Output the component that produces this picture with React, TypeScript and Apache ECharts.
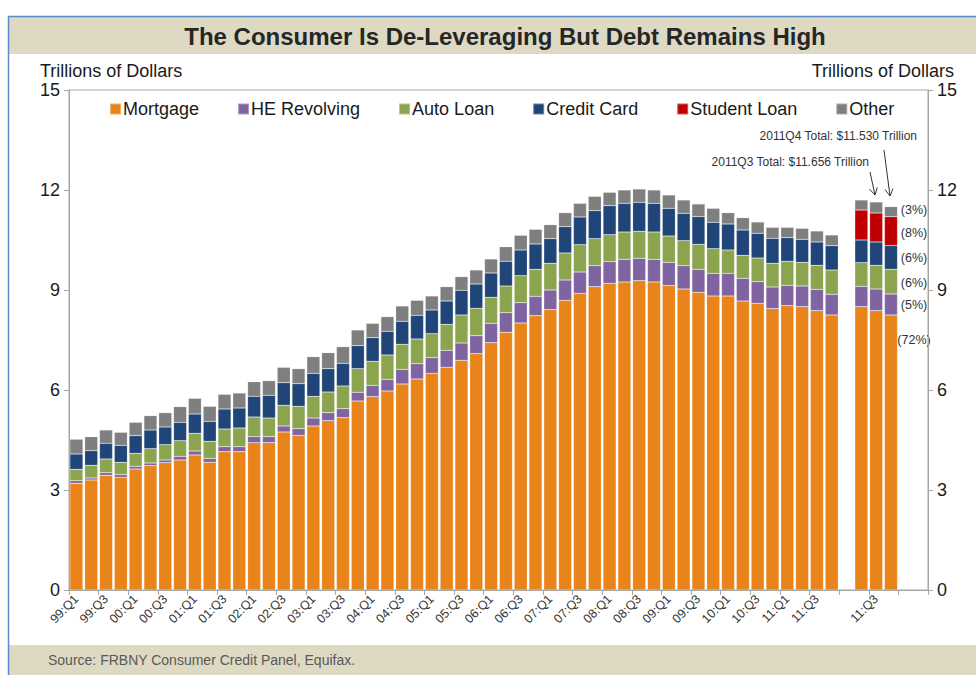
import React, { useEffect, useRef } from "react";
import * as echarts from "echarts";

// ---- Category labels (quarters) ----
const mainCategories = [
  "99:Q1","99:Q2","99:Q3","99:Q4","00:Q1","00:Q2","00:Q3","00:Q4",
  "01:Q1","01:Q2","01:Q3","01:Q4","02:Q1","02:Q2","02:Q3","02:Q4",
  "03:Q1","03:Q2","03:Q3","03:Q4","04:Q1","04:Q2","04:Q3","04:Q4",
  "05:Q1","05:Q2","05:Q3","05:Q4","06:Q1","06:Q2","06:Q3","06:Q4",
  "07:Q1","07:Q2","07:Q3","07:Q4","08:Q1","08:Q2","08:Q3","08:Q4",
  "09:Q1","09:Q2","09:Q3","09:Q4","10:Q1","10:Q2","10:Q3","10:Q4",
  "11:Q1","11:Q2","11:Q3","11:Q4",
];
const rightCategories = ["11:Q2", "11:Q3", "11:Q4"];

// ---- Series values, trillions of dollars (main group: 99Q1..11Q4) ----
const mortgageMain = [
  3.20,3.30,3.44,3.38,3.63,3.73,3.82,3.90,4.05,3.83,4.15,4.15,4.42,4.42,4.74,4.64,
  4.92,5.08,5.17,5.67,5.80,5.97,6.18,6.33,6.50,6.68,6.89,7.09,7.42,7.73,8.01,8.23,
  8.41,8.69,8.90,9.10,9.20,9.24,9.28,9.24,9.13,9.03,8.93,8.82,8.82,8.67,8.60,8.44,
  8.53,8.50,8.38,8.25,
];
const heRevolvingMain = [
  0.08,0.06,0.08,0.08,0.08,0.08,0.08,0.11,0.12,0.12,0.15,0.15,0.18,0.18,0.18,0.20,
  0.24,0.24,0.27,0.26,0.34,0.35,0.44,0.46,0.47,0.51,0.52,0.54,0.58,0.59,0.61,0.58,
  0.59,0.61,0.64,0.63,0.65,0.68,0.67,0.68,0.70,0.70,0.69,0.68,0.68,0.68,0.65,0.65,
  0.61,0.62,0.64,0.62,
];
const autoLoanMain = [
  0.34,0.38,0.41,0.37,0.39,0.43,0.46,0.47,0.53,0.51,0.53,0.56,0.59,0.56,0.62,0.67,
  0.65,0.62,0.68,0.71,0.72,0.73,0.75,0.74,0.72,0.78,0.84,0.82,0.78,0.80,0.81,0.81,
  0.80,0.81,0.82,0.81,0.81,0.82,0.81,0.82,0.79,0.75,0.75,0.74,0.70,0.69,0.71,0.71,
  0.72,0.71,0.72,0.73,
];
const creditCardMain = [
  0.46,0.44,0.47,0.51,0.53,0.56,0.53,0.55,0.58,0.60,0.60,0.60,0.62,0.68,0.68,0.68,
  0.69,0.70,0.68,0.69,0.71,0.71,0.69,0.71,0.71,0.70,0.74,0.73,0.73,0.74,0.77,0.76,
  0.74,0.79,0.83,0.84,0.87,0.86,0.87,0.86,0.83,0.82,0.83,0.79,0.78,0.76,0.74,0.75,
  0.71,0.69,0.70,0.73,
];
const otherMain = [
  0.44,0.42,0.40,0.39,0.40,0.43,0.43,0.47,0.47,0.45,0.44,0.45,0.44,0.44,0.46,0.45,
  0.50,0.48,0.50,0.47,0.43,0.44,0.46,0.45,0.42,0.43,0.41,0.42,0.42,0.44,0.44,0.44,
  0.42,0.42,0.41,0.43,0.40,0.40,0.40,0.40,0.40,0.40,0.38,0.42,0.34,0.37,0.34,0.33,
  0.31,0.33,0.33,0.32,
];

// ---- Right group (student loans broken out): 11Q2, 11Q3, 11Q4 ----
const mortgageRight = [8.50, 8.38, 8.25];
const heRevolvingRight = [0.61, 0.65, 0.63];
const autoLoanRight = [0.71, 0.71, 0.74];
const creditCardRight = [0.68, 0.70, 0.71];
const studentLoanRight = [0.90, 0.87, 0.87];
const otherRight = [0.30, 0.33, 0.30];

// ---- Annotation texts ----
const shareLabels = ["(3%)", "(8%)", "(6%)", "(6%)", "(5%)", "(72%)"];

const FONT = "'Liberation Sans', Arial, sans-serif";

const categories = [...mainCategories, "", ...rightCategories, "", ""];
const build = (main: (number | string)[], right: number[]) => [...main, "-", ...right, "-", "-"];

const seriesDefs = [
  { name: "Mortgage", color: "#E8841A", main: mortgageMain, right: mortgageRight },
  { name: "HE Revolving", color: "#8064A2", main: heRevolvingMain, right: heRevolvingRight },
  { name: "Auto Loan", color: "#8BA54E", main: autoLoanMain, right: autoLoanRight },
  { name: "Credit Card", color: "#1F4579", main: creditCardMain, right: creditCardRight },
  { name: "Student Loan", color: "#C00000", main: mainCategories.map(() => "-"), right: studentLoanRight },
  { name: "Other", color: "#7F7F7F", main: otherMain, right: otherRight },
];

export default function App() {
  const ref = useRef<HTMLDivElement>(null);
  useEffect(() => {
    if (!ref.current) return;
    const chart = echarts.init(ref.current, undefined, { renderer: "svg" });
    const beige = "#DDD9C3";
    const shareY = [210, 233, 258, 283, 305, 340];
    const option: any = {
      animation: false,
      backgroundColor: "#ffffff",
      textStyle: { fontFamily: FONT },
      grid: {
        left: 69, right: 48, top: 90, bottom: 85,
        show: true, borderColor: "#a6a6a6", borderWidth: 1,
      },
      legend: {
        data: seriesDefs.map((s) => s.name),
        left: 104, top: 95,
        icon: "rect", itemWidth: 11, itemHeight: 11, itemGap: 38,
        selectedMode: false,
        textStyle: { fontSize: 18, color: "#1a1a1a", fontFamily: FONT, padding: [0, 0, 0, -3] },
      },
      xAxis: {
        type: "category",
        data: categories,
        boundaryGap: true,
        axisLine: { show: true, lineStyle: { color: "#a6a6a6" } },
        axisTick: { show: true, interval: 1, length: 5, lineStyle: { color: "#a6a6a6" } },
        axisLabel: { interval: 1, rotate: 45, fontSize: 12.5, color: "#333", margin: 7, fontFamily: FONT },
      },
      yAxis: [0, 1].map((i) => ({
        type: "value",
        min: 0, max: 15, interval: 3,
        position: i === 0 ? "left" : "right",
        axisLine: { show: true, lineStyle: { color: "#a6a6a6" } },
        axisTick: { show: true, length: 5, lineStyle: { color: "#a6a6a6" } },
        axisLabel: { fontSize: 18, color: "#1a1a1a", margin: 9, fontFamily: FONT },
        splitLine: { show: false },
      })),
      series: seriesDefs.map((s) => ({
        name: s.name,
        type: "bar",
        stack: "total",
        barCategoryGap: "12%",
        itemStyle: { color: s.color, borderColor: "rgba(255,255,255,0.35)", borderWidth: 0.5 },
        emphasis: { disabled: true },
        data: build(s.main, s.right),
      })),
      graphic: [
        { type: "rect", z: -10, shape: { x: 9, y: 17, width: 980, height: 37 }, style: { fill: beige } },
        { type: "rect", z: -10, shape: { x: 9, y: 645, width: 980, height: 40 }, style: { fill: beige } },
        { type: "line", z: 50, shape: { x1: 8.5, y1: 16, x2: 8.5, y2: 675 }, style: { stroke: "#5B8BC9", lineWidth: 1.5 } },
        { type: "line", z: 50, shape: { x1: 8, y1: 16.5, x2: 976, y2: 16.5 }, style: { stroke: "#5B8BC9", lineWidth: 1.5 } },
        {
          type: "text", x: 505, y: 36,
          style: { text: "The Consumer Is De-Leveraging But Debt Remains High", fontSize: 24, fontWeight: "bold", fill: "#262626", fontFamily: FONT, align: "center", verticalAlign: "middle" },
        },
        { type: "text", x: 40, y: 71, style: { text: "Trillions of Dollars", fontSize: 18, fill: "#1a1a1a", fontFamily: FONT, align: "left", verticalAlign: "middle" } },
        { type: "text", x: 954, y: 71, style: { text: "Trillions of Dollars", fontSize: 18, fill: "#1a1a1a", fontFamily: FONT, align: "right", verticalAlign: "middle" } },
        { type: "text", x: 48, y: 660, style: { text: "Source: FRBNY Consumer Credit Panel, Equifax.", fontSize: 14, fill: "#595959", fontFamily: FONT, align: "left", verticalAlign: "middle" } },
        { type: "text", x: 917, y: 136, style: { text: "2011Q4 Total: $11.530 Trillion", fontSize: 12, fill: "#333", fontFamily: FONT, align: "right", verticalAlign: "middle" } },
        { type: "text", x: 869, y: 162, style: { text: "2011Q3 Total: $11.656 Trillion", fontSize: 12, fill: "#333", fontFamily: FONT, align: "right", verticalAlign: "middle" } },
        { type: "line", shape: { x1: 870, y1: 172, x2: 875, y2: 195 }, style: { stroke: "#333", lineWidth: 1 } },
        { type: "polyline", shape: { points: [[869.5, 189.1], [875, 195], [877.3, 187.3]] }, style: { stroke: "#333", lineWidth: 1, fill: null } },
        { type: "line", shape: { x1: 884, y1: 150, x2: 890, y2: 196 }, style: { stroke: "#333", lineWidth: 1 } },
        { type: "polyline", shape: { points: [[885.1, 189.6], [890, 196], [893.0, 188.6]] }, style: { stroke: "#333", lineWidth: 1, fill: null } },
        ...shareLabels.map((t, i) => ({
          type: "text", x: 914, y: shareY[i],
          style: { text: t, fontSize: 12.5, fill: "#333", fontFamily: FONT, align: "center", verticalAlign: "middle" },
        })),
      ],
    };
    chart.setOption(option);
    return () => chart.dispose();
  }, []);
  return (
    <div
      ref={ref}
      style={{ position: "fixed", left: 0, top: 0, width: 976, height: 675, background: "#fff" }}
    />
  );
}
